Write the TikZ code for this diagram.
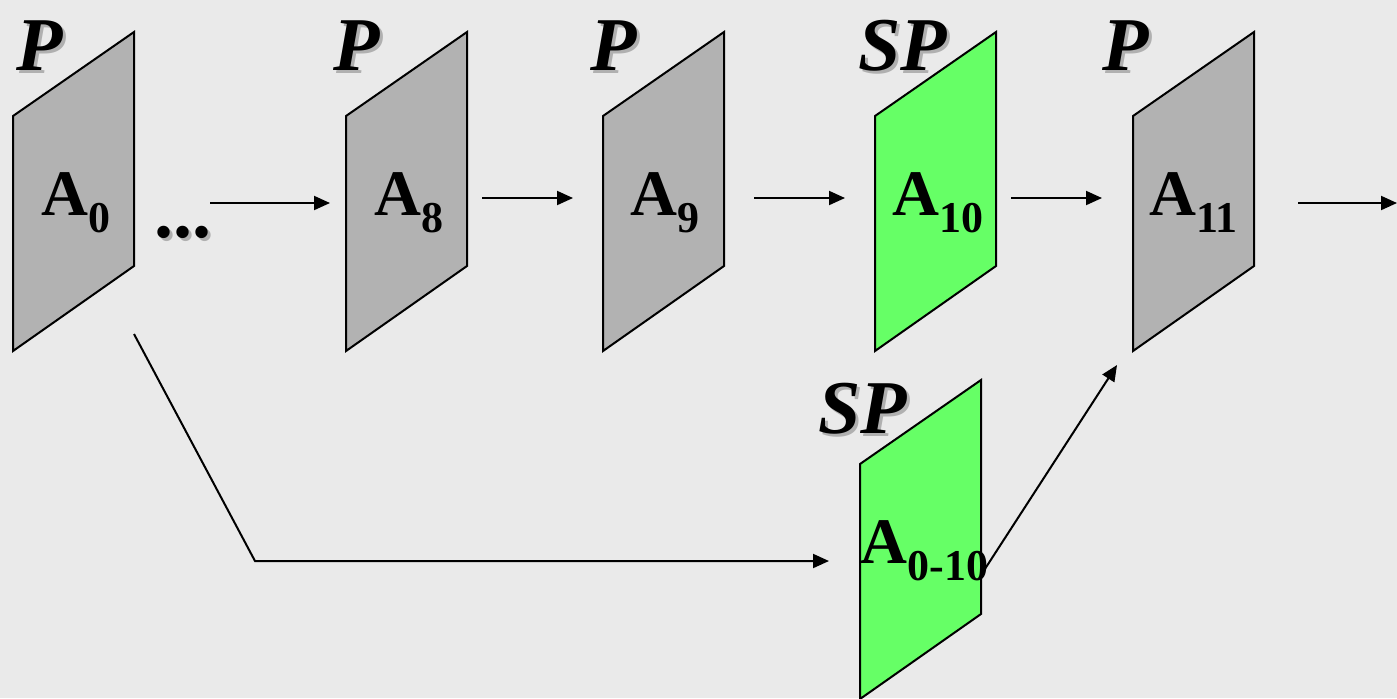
\documentclass[tikz,border=0pt]{standalone}
\usepackage{fontspec}
\setmainfont{Liberation Serif}
\usetikzlibrary{arrows.meta}
\definecolor{bgcol}{HTML}{EAEAEA}
\definecolor{panelgray}{HTML}{B2B2B2}
\definecolor{panelgreen}{HTML}{66FF66}
\definecolor{shadowgray}{HTML}{B0B0B0}
\newcommand\panelshape[4]{%
  \draw[panel,fill=#4] (#2,#3+84) coordinate (#1tl) -- (#2+121,#3) coordinate (#1tr)
    -- (#2+121,#3+234) coordinate (#1br) -- (#2,#3+319) coordinate (#1bl) -- cycle;}
\newcommand\shadowtag[4]{%
  \node[tag,text=shadowgray] (#1s) at (#2+3,#3+3) {#4};
  \node[tag] (#1) at (#2,#3) {#4};}
\newcommand\sublabel[4]{%
  \node[lbl] (#1) at (#2,#3) {A\raisebox{-8.5pt}{\fontsize{22}{24}\selectfont #4}};}
\begin{document}
\begin{tikzpicture}[x=0.5pt,y=-0.5pt,
  panel/.style={draw=black,line width=1pt,line join=miter},
  conn/.style={line width=1pt,-{Triangle[length=8pt,width=7pt]}},
  lbl/.style={font=\fontsize{32.5}{36}\selectfont\bfseries,anchor=base west,inner sep=0pt},
  tag/.style={font=\fontsize{38}{42}\selectfont\bfseries\itshape,anchor=base west,inner sep=0pt},
  dotstag/.style={font=\fontsize{38}{42}\selectfont\bfseries,anchor=base west,inner sep=0pt},
  ]
\fill[bgcol] (0,0) rectangle (1397,698);
\useasboundingbox (0,0) rectangle (1397,698);

% panels
\panelshape{p0}{13}{32}{panelgray}
\panelshape{p8}{346}{32}{panelgray}
\panelshape{p9}{603}{32}{panelgray}
\panelshape{p10}{875}{32}{panelgreen}
\panelshape{p11}{1133}{32}{panelgray}
\panelshape{p010}{860}{380}{panelgreen}

% tags
\shadowtag{t0}{16}{70}{P}
\shadowtag{t8}{333}{70}{P}
\shadowtag{t9}{590}{70}{P}
\shadowtag{t10}{858}{70}{SP}
\shadowtag{t11}{1102}{70}{P}
\shadowtag{t010}{818}{433}{SP}

% dots
\node[dotstag,text=shadowgray] (dotss) at (157,240) {...};
\node[dotstag] (dots) at (154,237) {...};

% labels
\sublabel{a0}{41}{215}{0}
\sublabel{a8}{374}{215}{8}
\sublabel{a9}{630}{215}{9}
\sublabel{a10}{892}{215}{10}
\sublabel{a11}{1149}{215}{11}
\sublabel{a010}{860}{563}{0-10}

% connector end points
\coordinate (c1s) at (210,203); \coordinate (c1e) at (330,203);
\coordinate (c2s) at (482,198); \coordinate (c2e) at (573,198);
\coordinate (c3s) at (754,198); \coordinate (c3e) at (845,198);
\coordinate (c4s) at (1011,198); \coordinate (c4e) at (1102,198);
\coordinate (c5s) at (1298,203); \coordinate (c5e) at (1397,203);
\coordinate (b1) at (134,334); \coordinate (b2) at (255,561); \coordinate (b3) at (829,561);
\coordinate (d1) at (981,575); \coordinate (d2) at (1117,365);

\draw[conn] (c1s) -- (c1e);
\draw[conn] (c2s) -- (c2e);
\draw[conn] (c3s) -- (c3e);
\draw[conn] (c4s) -- (c4e);
\draw[conn] (c5s) -- (c5e);
\draw[conn] (b1) -- (b2) -- (b3);
\draw[conn] (d1) -- (d2);
\end{tikzpicture}
\end{document}
